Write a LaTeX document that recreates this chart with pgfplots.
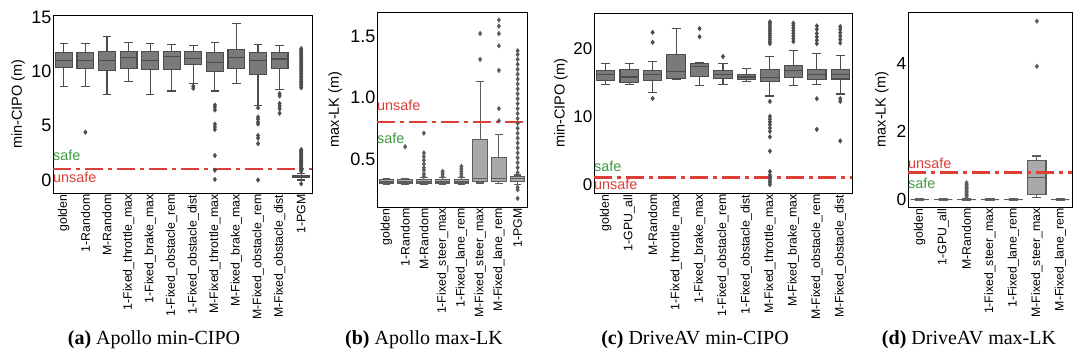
\documentclass[border=0pt]{standalone}
\usepackage{fontspec}
\setmainfont{Liberation Sans}
\newfontfamily\capfont{Liberation Serif}
\usepackage{pgfplots}
\pgfplotsset{compat=1.18}
\usepgfplotslibrary{statistics}
\definecolor{boxA}{HTML}{7A7A7A}
\definecolor{boxB}{HTML}{A9A9A9}
\definecolor{edgeA}{HTML}{4C4C4C}
\definecolor{edgeB}{HTML}{5C5C5C}
\definecolor{unsafered}{HTML}{DB3F38}
\definecolor{safegreen}{HTML}{3E9A3E}
\newcommand{\xtf}{\fontsize{12.3}{12.3}\selectfont}
\newcommand{\ytf}{\fontsize{18}{18}\selectfont}
\newcommand{\ylf}{\fontsize{14.5}{14.5}\selectfont}
\newcommand{\lab}{\fontsize{14.4}{14.4}\selectfont}
\pgfplotsset{
  panel/.style={scale only axis, axis line style={black, line width=0.9pt},
    major tick length=0pt,
    /pgf/number format/assume math mode=true,
    boxplot/draw direction=y,
    boxplot/box extend=0.78, boxplot/whisker extend=0.39,
    clip=false},
  bA/.style={draw=edgeA, fill=boxA, line width=1.1pt, mark=diamond*, mark size=2.4pt,
    mark options={fill=edgeA, draw=edgeA, line width=0.3pt, solid}},
  bB/.style={draw=edgeB, fill=boxB, line width=1.1pt, mark=diamond*, mark size=2.4pt,
    mark options={fill=edgeB, draw=edgeB, line width=0.3pt, solid}},
  thr/.style={unsafered, line width=2.6pt, dash pattern=on 18pt off 5pt on 4pt off 5pt},
}
\newcommand{\bx}[7]{\addplot[#1, boxplot prepared={draw position=#2, lower whisker=#3, lower quartile=#4, median=#5, upper quartile=#6, upper whisker=#7}] coordinates}
\begin{document}
\begin{tikzpicture}
\path[use as bounding box] (0,0) rectangle (1080pt,355pt);
% ---------------- (a)
\begin{axis}[panel, at={(53pt,162pt)}, anchor=south west, width=259pt, height=178pt,
  xmin=0.5, xmax=12.5, ymin=-1.2, ymax=15.2, ytick={0,5,10,15},
  xtick={1,...,12},
  xticklabels={golden,1-Random,M-Random,1-Fixed\_throttle\_max,1-Fixed\_brake\_max,1-Fixed\_obstacle\_rem,1-Fixed\_obstacle\_dist,M-Fixed\_throttle\_max,M-Fixed\_brake\_max,M-Fixed\_obstacle\_rem,M-Fixed\_obstacle\_dist,1-PGM},
  xticklabel style={font=\xtf, rotate=90, anchor=east, inner sep=1.5pt},
  yticklabel style={font=\ytf, inner sep=1.5pt},
  ylabel={\ylf min-CIPO (m)}, ylabel style={anchor=center, at={(axis description cs:-0.135,0.5)}}]
\bx{bA}{1}{8.65}{10.4}{11.0}{11.75}{12.6} {};
\bx{bA}{2}{8.65}{10.25}{11.0}{11.75}{12.6} {(2,4.4)};
\bx{bA}{3}{7.9}{10.1}{11.0}{11.8}{13.2} {};
\bx{bA}{4}{9.1}{10.3}{11.25}{11.8}{12.7} {};
\bx{bA}{5}{7.9}{10.2}{11.0}{11.8}{12.55} {};
\bx{bA}{6}{8.2}{10.2}{11.35}{11.8}{12.5} {};
\bx{bA}{7}{8.9}{10.6}{11.2}{11.8}{12.4} {(7,8.65) (7,8.45)};
\bx{bA}{8}{8.2}{10.0}{10.85}{11.75}{12.7} {(8,6.9) (8,6.7) (8,6.45) (8,5.15) (8,4.9) (8,4.65) (8,2.25) (8,0.9) (8,0.05)};
\bx{bA}{9}{8.9}{10.3}{11.25}{12.0}{14.4} {};
\bx{bA}{10}{6.85}{9.75}{11.0}{11.75}{12.5} {(10,6.65) (10,5.8) (10,5.6) (10,5.35) (10,5.15) (10,4.1) (10,3.85) (10,3.35) (10,0.0)};
\bx{bA}{11}{8.3}{10.3}{11.15}{11.75}{12.4} {(11,7.95) (11,7.75) (11,7.05) (11,6.8) (11,6.55) (11,6.15)};
\bx{bA}{12}{0.0}{0.2}{0.3}{0.4}{0.6} {(12,-0.35) (12,0.8) (12,0.9) (12,1.0) (12,1.1) (12,1.2) (12,1.3) (12,1.4) (12,1.5) (12,1.6) (12,1.7) (12,1.8) (12,1.9) (12,2.0) (12,2.1) (12,2.2) (12,2.3) (12,2.4) (12,2.5) (12,2.6) (12,2.7) (12,2.8)
 (12,8.5) (12,8.65) (12,8.8) (12,8.95) (12,9.1) (12,9.25) (12,9.4) (12,9.55) (12,9.7) (12,9.85) (12,10.0) (12,10.15) (12,10.3) (12,10.45) (12,10.6) (12,10.75) (12,10.9) (12,11.05) (12,11.2) (12,11.35) (12,11.5) (12,11.65) (12,11.8) (12,11.95) (12,12.1)};
\addplot[thr] coordinates {(0.5,1) (12.5,1)};
\node[anchor=west, inner sep=0pt, text=safegreen, font=\lab] at (axis cs:0.5,2.3) {safe};
\node[anchor=west, inner sep=0pt, text=unsafered, font=\lab] at (axis cs:0.5,0.25) {unsafe};
\end{axis}
% ---------------- (b)
\begin{axis}[panel, at={(377pt,148pt)}, anchor=south west, width=150pt, height=195pt,
  xmin=0.5, xmax=8.5, ymin=0.11, ymax=1.695, ytick={0.5,1.0,1.5},
  yticklabel style={font=\ytf, inner sep=1.5pt, /pgf/number format/.cd, fixed, fixed zerofill, precision=1},
  xtick={1,...,8},
  xticklabels={golden,1-Random,M-Random,1-Fixed\_steer\_max,1-Fixed\_lane\_rem,M-Fixed\_steer\_max,M-Fixed\_lane\_rem,1-PGM},
  xticklabel style={font=\xtf, rotate=90, anchor=east, inner sep=1.5pt},
  ylabel={\ylf max-LK (m)}, ylabel style={anchor=center, at={(axis description cs:-0.28,0.5)}}]
\bx{bB}{1}{0.29}{0.305}{0.318}{0.335}{0.345} {};
\bx{bB}{2}{0.29}{0.305}{0.318}{0.335}{0.345} {(2,0.60)};
\bx{bB}{3}{0.29}{0.305}{0.318}{0.335}{0.35} {(3,0.71) (3,0.55) (3,0.52) (3,0.49) (3,0.46) (3,0.43) (3,0.41) (3,0.38) (3,0.36)};
\bx{bB}{4}{0.29}{0.305}{0.318}{0.335}{0.35} {(4,0.40) (4,0.38) (4,0.36)};
\bx{bB}{5}{0.29}{0.305}{0.318}{0.335}{0.35} {(5,0.44) (5,0.42) (5,0.40) (5,0.38) (5,0.36)};
\bx{bB}{6}{0.305}{0.32}{0.345}{0.66}{1.13} {(6,1.31) (6,1.52)};
\bx{bB}{7}{0.30}{0.32}{0.345}{0.51}{0.70} {(7,0.81) (7,0.91) (7,1.22) (7,1.42) (7,1.52) (7,1.58) (7,1.63)};
\bx{bB}{8}{0.29}{0.32}{0.34}{0.36}{0.37} {(8,0.18) (8,0.25) (8,0.27) (8,0.39) (8,0.43) (8,0.47) (8,0.51) (8,0.55) (8,0.59) (8,0.63) (8,0.67) (8,0.71) (8,0.75) (8,0.79) (8,0.83) (8,0.87) (8,0.91) (8,0.95) (8,0.99) (8,1.03) (8,1.07) (8,1.11) (8,1.15) (8,1.19) (8,1.23) (8,1.27) (8,1.31) (8,1.35) (8,1.38)};
\addplot[thr] coordinates {(0.5,0.8) (8.5,0.8)};
\node[anchor=west, inner sep=0pt, text=unsafered, font=\lab] at (axis cs:0.5,0.94) {unsafe};
\node[anchor=west, inner sep=0pt, text=safegreen, font=\lab] at (axis cs:0.5,0.67) {safe};
\end{axis}
% ---------------- (c)
\begin{axis}[panel, at={(594pt,162pt)}, anchor=south west, width=258pt, height=180pt,
  xmin=0.5, xmax=11.5, ymin=-1.25, ymax=25.2, ytick={0,10,20},
  yticklabel style={font=\fontsize{17}{17}\selectfont, inner sep=1.5pt},
  xtick={1,...,11},
  xticklabels={golden,1-GPU\_all,M-Random,1-Fixed\_throttle\_max,1-Fixed\_brake\_max,1-Fixed\_obstacle\_rem,1-Fixed\_obstacle\_dist,M-Fixed\_throttle\_max,M-Fixed\_brake\_max,M-Fixed\_obstacle\_rem,M-Fixed\_obstacle\_dist},
  xticklabel style={font=\xtf, rotate=90, anchor=east, inner sep=1.5pt},
  ylabel={\ylf min-CIPO (m)}, ylabel style={anchor=center, at={(axis description cs:-0.128,0.5)}}]
\bx{bA}{1}{14.7}{15.3}{16.1}{16.8}{17.8} {};
\bx{bA}{2}{14.75}{15.05}{15.8}{16.9}{17.8} {};
\bx{bA}{3}{13.5}{15.3}{16.2}{16.8}{18.1} {(3,20.9) (3,22.35) (3,12.65)};
\bx{bA}{4}{15.5}{15.6}{16.6}{19.1}{22.9} {};
\bx{bA}{5}{14.6}{15.9}{17.3}{17.8}{17.9} {(5,21.7) (5,22.9)};
\bx{bA}{6}{14.7}{15.6}{16.1}{16.7}{17.8} {(6,18.8)};
\bx{bA}{7}{15.1}{15.45}{15.8}{16.2}{17.05} {};
\bx{bA}{8}{13.0}{15.1}{15.7}{16.9}{18.8} {(8,20.7) (8,21.0) (8,21.3) (8,21.6) (8,21.9) (8,22.2) (8,22.5) (8,22.8) (8,23.1) (8,23.4) (8,23.7) (8,23.9) (8,12.2) (8,10.0) (8,9.6) (8,9.2) (8,8.8) (8,8.3) (8,7.8) (8,7.0) (8,4.9) (8,1.9) (8,1.4) (8,1.0) (8,0.6) (8,0.3) (8,0.0)};
\bx{bA}{9}{14.5}{15.7}{16.7}{17.5}{19.75} {(9,21.0) (9,21.4) (9,21.8) (9,22.2) (9,22.6) (9,23.0) (9,23.4) (9,23.7)};
\bx{bA}{10}{14.7}{15.45}{16.1}{16.9}{19.3} {(10,20.7) (10,21.2) (10,21.7) (10,22.2) (10,22.8) (10,23.3) (10,12.6) (10,8.1)};
\bx{bA}{11}{13.3}{15.5}{16.1}{16.9}{18.9} {(11,20.8) (11,21.3) (11,21.8) (11,22.3) (11,22.8) (11,23.2) (11,12.6) (11,12.2) (11,6.4)};
\addplot[thr] coordinates {(0.5,1) (11.5,1)};
\node[anchor=west, inner sep=0pt, text=safegreen, font=\lab] at (axis cs:0.5,2.6) {safe};
\node[anchor=west, inner sep=0pt, text=unsafered, font=\lab] at (axis cs:0.5,0.0) {unsafe};
\end{axis}
% ---------------- (d)
\begin{axis}[panel, at={(908pt,148pt)}, anchor=south west, width=164pt, height=195pt,
  xmin=0.5, xmax=7.5, ymin=-0.22, ymax=5.52, ytick={0,2,4},
  yticklabel style={font=\fontsize{17.5}{17.5}\selectfont, inner sep=1.5pt},
  xtick={1,...,7},
  xticklabels={golden,1-GPU\_all,M-Random,1-Fixed\_steer\_max,1-Fixed\_lane\_rem,M-Fixed\_steer\_max,M-Fixed\_lane\_rem},
  xticklabel style={font=\xtf, rotate=90, anchor=east, inner sep=1.5pt},
  ylabel={\ylf max-LK (m)}, ylabel style={anchor=center, at={(axis description cs:-0.16,0.5)}}]
\bx{bB}{1}{-0.04}{0}{0}{0}{0.04} {};
\bx{bB}{2}{-0.04}{0}{0}{0}{0.04} {};
\bx{bB}{3}{-0.04}{0}{0}{0}{0.04} {(3,0.08) (3,0.12) (3,0.16) (3,0.2) (3,0.24) (3,0.28) (3,0.32) (3,0.36) (3,0.4) (3,0.44) (3,0.49)};
\bx{bB}{4}{-0.04}{0}{0}{0}{0.04} {};
\bx{bB}{5}{-0.04}{0}{0}{0}{0.04} {};
\bx{bB}{6}{0.05}{0.16}{0.65}{1.16}{1.28} {(6,3.92) (6,5.25)};
\bx{bB}{7}{-0.04}{0}{0}{0}{0.04} {};
\addplot[thr] coordinates {(0.5,0.8) (7.5,0.8)};
\node[anchor=west, inner sep=0pt, text=unsafered, font=\lab] at (axis cs:0.5,1.06) {unsafe};
\node[anchor=west, inner sep=0pt, text=safegreen, font=\lab] at (axis cs:0.5,0.47) {safe};
\end{axis}
% captions
\node[font=\capfont\fontsize{20}{20}\selectfont] at (154pt,15pt) {\textbf{(a)} Apollo min-CIPO};
\node[font=\capfont\fontsize{20}{20}\selectfont] at (424pt,15pt) {\textbf{(b)} Apollo max-LK};
\node[font=\capfont\fontsize{20}{20}\selectfont] at (695pt,15pt) {\textbf{(c)} DriveAV min-CIPO};
\node[font=\capfont\fontsize{20}{20}\selectfont] at (969pt,15pt) {\textbf{(d)} DriveAV max-LK};
\end{tikzpicture}
\end{document}
